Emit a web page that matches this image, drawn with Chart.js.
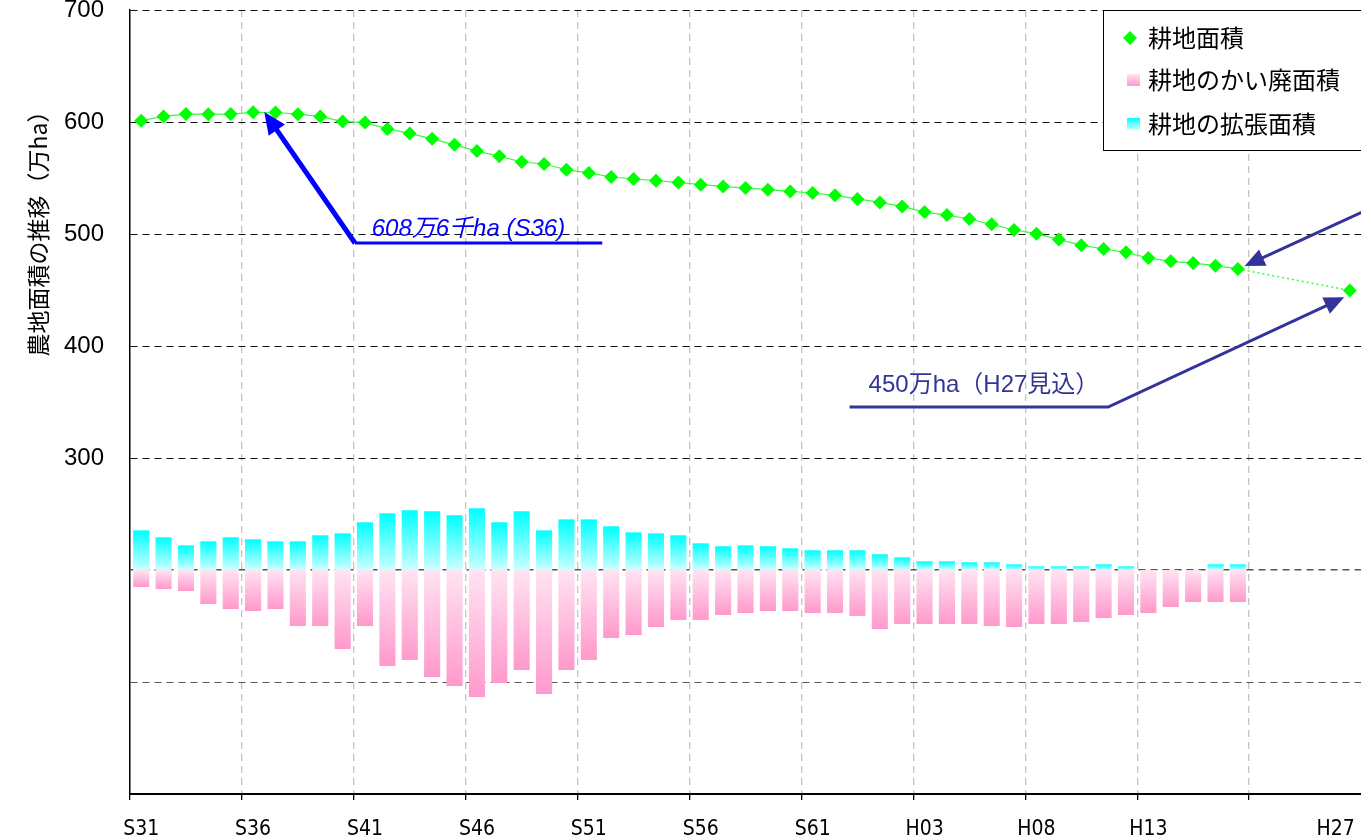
<!DOCTYPE html>
<html>
<head>
<meta charset="utf-8">
<script src="https://cdn.jsdelivr.net/npm/chart.js@4.4.0/dist/chart.umd.min.js"></script>
<style>
  html, body { margin: 0; padding: 0; background: #fff; }
  canvas { display: block; }
</style>
</head>
<body>
<canvas id="myChart" width="1361" height="840"></canvas>
<script>
// categories : S31 .. H17, then a gap up to H27
var years = ['S31','S32','S33','S34','S35','S36','S37','S38','S39','S40',
             'S41','S42','S43','S44','S45','S46','S47','S48','S49','S50',
             'S51','S52','S53','S54','S55','S56','S57','S58','S59','S60',
             'S61','S62','S63','H01','H02','H03','H04','H05','H06','H07',
             'H08','H09','H10','H11','H12','H13','H14','H15','H16','H17'];
var categories = years.concat(['', '', '', '', 'H27']);
var tickLabels = ['S31','S36','S41','S46','S51','S56','S61','H03','H08','H13','H27'];

// 耕地面積 (万ha)
var area = [601.2, 605, 607.1, 607, 607.1, 608.6, 608.5, 607, 605, 600.4,
            599.6, 593.8, 589.8, 585, 579.6, 574, 569.5, 564.3, 562.5, 557.4,
            554.5, 550.9, 549.1, 547.6, 546, 544, 542.5, 541, 539.6, 538,
            536.6, 534.5, 531.3, 528.2, 524.6, 519.6, 516.9, 513.4, 508.6, 503.6,
            500.3, 495, 490, 486.6, 483.6, 478.6, 475.6, 474, 471.7, 468.8,
            null, null, null, null, 449.6];

// 拡張 / かい廃 (drawn up / down from the base line)
var expansion = [35.4, 29.2, 22, 25.6, 29.2, 27.4, 25.6, 25.6, 31, 32.7,
                 42.6, 50.6, 53.3, 52.4, 48.8, 55.1, 42.6, 52.4, 35.4, 45.2,
                 45.2, 39, 33.6, 32.7, 31, 23.8, 21.2, 22, 21.2, 19.4,
                 17.6, 17.6, 17.6, 14, 11.3, 7.8, 7.8, 6.9, 6.9, 5.1,
                 3.3, 3.3, 3.3, 5.1, 3.3, 0, 0, 0, 5.1, 5.1];
var abandonment = [15.2, 17, 18.75, 30.4, 34.8, 36.6, 34.8, 50, 50, 70.5,
                   50, 85.7, 80.4, 95.5, 103.6, 113.4, 100.9, 89.3, 110.7, 89.3,
                   80.4, 60.7, 58, 50.9, 44.6, 44.6, 40.2, 38.4, 36.6, 36.6,
                   38.4, 38.4, 41, 52.7, 48.2, 48.2, 48.2, 48.2, 50, 50.9,
                   48.2, 48.2, 46.4, 42.9, 40.2, 38.4, 33, 28.6, 28.6, 28.6];
var baseLine = 200;

// annotations in data units : [category index, value]
var note1 = { text: '608万6千ha (S36)', at: [10.3, 498], path: [[20.6, 492], [9.55, 492], [5.5, 609]] };
var note2 = { text: '450万ha（H27見込）', at: [32.5, 359], path: [[31.65, 345.5], [43.2, 345.5], [53.75, 443.5]] };
var note3 = { path: [[54.6, 520], [49.3, 471.4]] };

var cjk = "'Liberation Sans', 'Noto Sans CJK JP', sans-serif";

function barGradient(ctx, c1, c2) {
  var chart = ctx.chart;
  if (!chart.chartArea || !ctx.raw) return c1;
  var y = chart.scales.y;
  var top = y.getPixelForValue(ctx.raw[1]);
  var bot = y.getPixelForValue(ctx.raw[0]);
  var g = chart.ctx.createLinearGradient(0, top, 0, bot + 0.01);
  g.addColorStop(0, c1);
  g.addColorStop(1, c2);
  return g;
}

function arrow(c, pts, color, width, head) {
  c.save();
  c.strokeStyle = color;
  c.fillStyle = color;
  c.lineWidth = width;
  var n = pts.length;
  var a = pts[n - 2], b = pts[n - 1];
  var ang = Math.atan2(b[1] - a[1], b[0] - a[0]);
  var cs = Math.cos(ang), sn = Math.sin(ang);
  c.beginPath();
  c.moveTo(pts[0][0], pts[0][1]);
  for (var i = 1; i < n - 1; i++) c.lineTo(pts[i][0], pts[i][1]);
  c.lineTo(b[0] - cs * head * 0.8, b[1] - sn * head * 0.8);
  c.stroke();
  c.beginPath();
  c.moveTo(b[0], b[1]);
  c.lineTo(b[0] - cs * head + sn * head * 0.45, b[1] - sn * head - cs * head * 0.45);
  c.lineTo(b[0] - cs * head - sn * head * 0.45, b[1] - sn * head + cs * head * 0.45);
  c.closePath();
  c.fill();
  c.restore();
}

var extras = {
  id: 'extras',
  afterDraw: function(chart) {
    var c = chart.ctx, xs = chart.scales.x, ys = chart.scales.y;
    var px = function(p) { return [xs.getPixelForValue(p[0]), ys.getPixelForValue(p[1])]; };

    // y title
    c.save();
    c.translate(38, 228);
    c.rotate(-Math.PI / 2);
    c.font = "23px 'Noto Sans CJK JP', sans-serif";
    c.fillStyle = '#000';
    c.textAlign = 'center';
    c.textBaseline = 'middle';
    c.fillText('農地面積の推移（万ha）', 0, 0);
    c.restore();

    // annotation 1
    var p1 = note1.path.map(px);
    c.save();
    c.strokeStyle = '#0000FF'; c.lineWidth = 3;
    c.beginPath(); c.moveTo(p1[0][0], p1[0][1]); c.lineTo(p1[1][0], p1[1][1]); c.stroke();
    c.restore();
    arrow(c, [p1[1], p1[2]], '#0000FF', 5, 22);
    var t1 = px(note1.at);
    c.save();
    c.font = 'italic 24px ' + cjk;
    c.fillStyle = '#0000FF';
    c.fillText(note1.text, t1[0], t1[1]);
    c.restore();

    // annotation 2 and 3
    arrow(c, note2.path.map(px), '#333399', 3, 20);
    arrow(c, note3.path.map(px), '#333399', 3, 20);
    var t2 = px(note2.at);
    c.save();
    c.font = '24px ' + cjk;
    c.fillStyle = '#333399';
    c.fillText(note2.text, t2[0], t2[1]);
    c.restore();

    // legend box
    c.save();
    c.fillStyle = '#fff';
    c.fillRect(1103, 10, 260, 140);
    c.strokeStyle = '#000'; c.lineWidth = 1;
    c.strokeRect(1103.5, 10.5, 260, 140);
    c.font = "24px 'Noto Sans CJK JP', sans-serif";
    c.textBaseline = 'middle';
    c.fillStyle = '#000';
    var rows = [38, 80, 124];
    c.fillText(chart.data.datasets[0].label, 1148, rows[0]);
    c.fillText(chart.data.datasets[2].label, 1148, rows[1]);
    c.fillText(chart.data.datasets[1].label, 1148, rows[2]);
    c.fillStyle = '#00FF00';
    c.beginPath();
    c.moveTo(1130, rows[0] - 7); c.lineTo(1137, rows[0]); c.lineTo(1130, rows[0] + 7); c.lineTo(1123, rows[0]);
    c.closePath(); c.fill();
    var g = c.createLinearGradient(0, rows[1] - 6, 0, rows[1] + 6);
    g.addColorStop(0, '#FFE4F2'); g.addColorStop(1, '#FF99CC');
    c.fillStyle = g; c.fillRect(1127, rows[1] - 6, 13, 12);
    g = c.createLinearGradient(0, rows[2] - 6, 0, rows[2] + 6);
    g.addColorStop(0, '#00FFFF'); g.addColorStop(1, '#CCFFFF');
    c.fillStyle = g; c.fillRect(1127, rows[2] - 6, 13, 12);
    c.restore();
  }
};

var ctx = document.getElementById('myChart').getContext('2d');
var myChart = new Chart(ctx, {
  data: {
    labels: categories,
    datasets: [{
      type: 'line',
      label: '耕地面積',
      data: area,
      order: 0,
      borderColor: '#33FF33',
      borderWidth: 1.2,
      backgroundColor: '#00FF00',
      pointStyle: 'rectRot',
      pointRadius: 7,
      pointBorderWidth: 0,
      pointBackgroundColor: '#00FF00',
      spanGaps: true,
      tension: 0,
      clip: false,
      segment: {
        borderDash: function(s) { return s.p1DataIndex === categories.length - 1 ? [2, 3] : undefined; },
        borderWidth: function(s) { return s.p1DataIndex === categories.length - 1 ? 1.5 : undefined; }
      }
    }, {
      type: 'bar',
      label: '耕地の拡張面積',
      data: expansion.map(function(v) { return [baseLine, baseLine + v]; }),
      order: 1,
      grouped: false,
      categoryPercentage: 1,
      barPercentage: 0.72,
      backgroundColor: function(c) { return barGradient(c, '#00FFFF', '#CCFFFF'); }
    }, {
      type: 'bar',
      label: '耕地のかい廃面積',
      data: abandonment.map(function(v) { return [baseLine - v, baseLine]; }),
      order: 1,
      grouped: false,
      categoryPercentage: 1,
      barPercentage: 0.72,
      backgroundColor: function(c) { return barGradient(c, '#FFE4F2', '#FF99CC'); }
    }]
  },
  options: {
    responsive: false,
    animation: false,
    layout: { autoPadding: false, padding: { top: 10, left: 0, right: 0, bottom: 0 } },
    plugins: {
      legend: { display: false },
      tooltip: { enabled: false }
    },
    scales: {
      x: {
        offset: true,
        grid: {
          offset: true,
          color: function(c) { return (c.index % 5 === 0 && c.index > 0 && c.index <= 50) ? '#C4C4C4' : 'rgba(0,0,0,0)'; },
          tickColor: function(c) { return c.index % 5 === 0 ? '#000' : 'rgba(0,0,0,0)'; },
          tickLength: 6,
          lineWidth: 1.3
        },
        border: { color: '#000', width: 2, dash: [7, 5] },
        ticks: {
          autoSkip: false,
          maxRotation: 0,
          padding: 17,
          color: '#000',
          font: { family: "'Liberation Sans Narrow', 'DejaVu Sans Condensed', 'Liberation Sans', Arial, sans-serif", size: 21 },
          callback: function(v, i) {
            var lab = categories[i];
            if (tickLabels.indexOf(lab) < 0) return '';
            return i === categories.length - 1 ? lab + '\u2002\u2002\u2002' : lab;
          }
        },
        afterFit: function(s) { s.height = 46; s.paddingLeft = 0; s.paddingRight = 0; }
      },
      y: {
        min: 0,
        max: 700,
        ticks: {
          stepSize: 100,
          padding: 26,
          color: '#000',
          font: { family: "'Liberation Sans', Arial, sans-serif", size: 24 },
          callback: function(v) { return v >= 300 ? v : ''; }
        },
        grid: {
          drawTicks: false,
          color: function(c) {
            if (c.tick.value === 0) return 'rgba(0,0,0,0)';
            return c.tick.value <= 200 ? '#555' : '#111';
          },
          lineWidth: function(c) { return c.tick.value === 200 ? 1.6 : 1; }
        },
        border: { color: '#000', width: 1.5, dash: [7, 5] },
        afterFit: function(s) { s.width = 130; s.paddingTop = 0; s.paddingBottom = 0; }
      }
    }
  },
  plugins: [extras]
});
</script>
</body>
</html>
